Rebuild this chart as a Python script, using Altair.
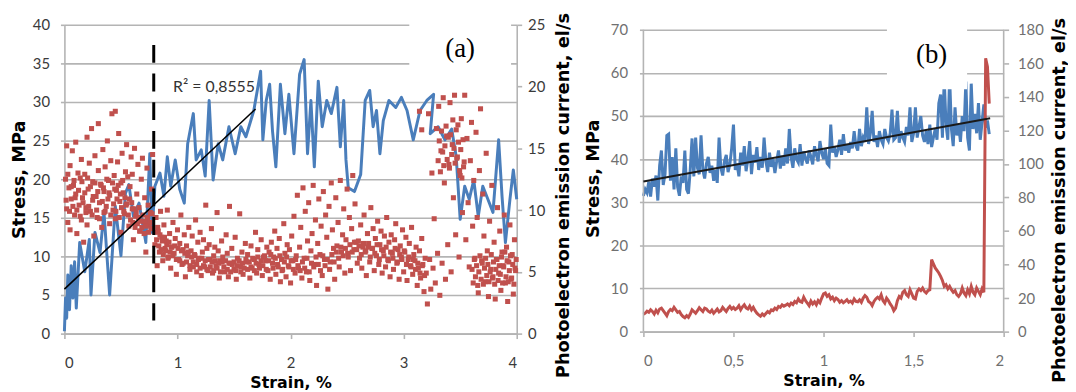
import altair as alt
import pandas as pd

BLUE = "#4a7ebb"
RED = "#c0504d"
GRID = "#b4b4b4"
FONT = "Lato"
TFONT = "DejaVu Sans"

# ---------------- Panel (a) ----------------
a_line_strain = [0.00, 0.01, 0.02, 0.03, 0.045, 0.06, 0.075, 0.09, 0.105, 0.135,
                 0.18, 0.22, 0.235, 0.27, 0.315, 0.35, 0.40, 0.45, 0.50, 0.54,
                 0.57, 0.61, 0.66, 0.72, 0.755, 0.775, 0.80, 0.845, 0.88, 0.91,
                 0.94, 0.98, 1.02, 1.06, 1.09, 1.14, 1.165, 1.21, 1.245, 1.28,
                 1.315, 1.36, 1.40, 1.455, 1.51, 1.56, 1.605, 1.675, 1.735, 1.755,
                 1.785, 1.815, 1.84, 1.87, 1.91, 1.95, 1.985, 2.03, 2.08, 2.12,
                 2.15, 2.18, 2.21, 2.245, 2.28, 2.32, 2.36, 2.41, 2.44, 2.47,
                 2.49, 2.51, 2.565, 2.62, 2.66, 2.70, 2.73, 2.76, 2.79, 2.82,
                 2.87, 2.93, 2.98, 3.03, 3.085, 3.145, 3.205, 3.265, 3.235, 3.305,
                 3.365, 3.425, 3.465, 3.50, 3.54, 3.58, 3.62, 3.66, 3.70, 3.745,
                 3.79, 3.84, 3.87, 3.90, 3.94, 3.97, 4.00]
a_line_stress = [0.3, 4.6, 2.0, 7.6, 3.1, 8.8, 4.6, 9.3, 3.3, 11.8,
                 8.0, 12.2, 5.0, 13.1, 10.5, 15.7, 5.0, 16.5, 10.1, 18.2,
                 19.3, 15.2, 16.9, 11.8, 23.3, 13.1, 19.1, 20.8, 17.8, 22.9,
                 19.1, 22.5, 18.7, 16.9, 24.6, 28.5, 22.5, 23.8, 20.4, 30.2,
                 19.9, 24.6, 22.5, 26.8, 23.3, 26.8, 25.5, 28.9, 34.0, 25.1,
                 30.2, 32.3, 26.3, 21.6, 32.3, 25.9, 31.0, 23.3, 33.6, 35.5,
                 23.3, 30.2, 21.6, 32.7, 26.8, 30.2, 28.5, 31.9, 24.2, 30.2,
                 22.5, 18.9, 18.4, 20.6, 30.2, 31.5, 26.8, 28.9, 23.3, 27.6,
                 30.2, 29.3, 30.6, 28.9, 25.1, 28.9, 30.2, 31.0, 25.9, 26.8,
                 25.1, 26.5, 22.9, 14.8, 19.1, 17.4, 19.9, 15.2, 19.1, 17.4,
                 15.7, 25.1, 17.8, 11.8, 17.4, 21.2, 17.4]

# photoelectron emission current (el/s) points, (strain, current)
a_emission_early = [
    (0.01, 12.5), (0.02, 10.1), (0.02, 15.2), (0.03, 9.0), (0.04, 11.8), (0.05, 13.6), (0.05, 8.4),
    (0.06, 10.9), (0.07, 14.8), (0.08, 12.0), (0.09, 9.6), (0.10, 11.3), (0.10, 15.5), (0.11, 8.1),
    (0.12, 13.0), (0.13, 10.4), (0.14, 12.6), (0.15, 9.2), (0.15, 14.1), (0.16, 11.0), (0.17, 7.4),
    (0.18, 12.9), (0.19, 10.2), (0.20, 15.9), (0.20, 8.8), (0.21, 11.7), (0.22, 13.8), (0.23, 9.9),
    (0.24, 16.6), (0.25, 10.8), (0.25, 12.3), (0.26, 7.9), (0.27, 14.4), (0.28, 11.1), (0.29, 9.4),
    (0.30, 13.2), (0.30, 17.0), (0.31, 10.6), (0.32, 12.1), (0.33, 8.6), (0.34, 14.9), (0.35, 11.5),
    (0.35, 9.8), (0.36, 13.5), (0.37, 10.3), (0.38, 15.6), (0.39, 12.4), (0.40, 8.9), (0.40, 11.2),
    (0.41, 14.0), (0.42, 17.8), (0.43, 10.0), (0.44, 12.8), (0.45, 9.3), (0.45, 18.0), (0.46, 11.6),
    (0.47, 13.9), (0.48, 16.2), (0.49, 10.7), (0.50, 12.2), (0.50, 8.2), (0.51, 14.6), (0.52, 11.4),
    (0.53, 9.7), (0.54, 13.1), (0.55, 15.3), (0.55, 10.5), (0.56, 12.7), (0.57, 8.7), (0.58, 11.9),
    (0.59, 14.3), (0.60, 10.1), (0.60, 12.9), (0.61, 7.6), (0.62, 15.0), (0.63, 9.5), (0.64, 11.3),
    (0.65, 13.7), (0.66, 10.2), (0.67, 8.3), (0.68, 12.5), (0.69, 14.2), (0.70, 9.1), (0.71, 11.0),
    (0.72, 6.6), (0.73, 13.4), (0.74, 10.4), (0.75, 8.8), (0.76, 9.8), (0.77, 11.7), (0.78, 14.5),
]
a_emission_early_core = [
    (0.015, 10.8), (0.03, 12.9), (0.045, 9.9), (0.06, 11.9), (0.075, 10.3), (0.085, 12.4), (0.095, 11.0),
    (0.11, 10.0), (0.125, 11.6), (0.14, 9.5), (0.155, 12.3), (0.165, 10.6), (0.18, 11.4), (0.19, 9.8),
    (0.205, 12.6), (0.215, 10.3), (0.23, 11.9), (0.245, 9.6), (0.255, 11.1), (0.27, 12.2), (0.285, 10.0),
    (0.295, 11.5), (0.31, 9.3), (0.325, 12.0), (0.335, 10.7), (0.345, 11.8), (0.36, 9.9), (0.375, 12.5),
    (0.385, 10.9), (0.395, 11.4), (0.41, 9.6), (0.425, 12.2), (0.435, 10.5), (0.445, 11.7), (0.455, 9.9),
    (0.465, 10.9), (0.475, 12.0), (0.485, 9.4), (0.495, 11.3), (0.505, 10.2), (0.515, 12.4), (0.525, 9.9),
    (0.535, 11.0), (0.545, 10.4), (0.565, 9.6), (0.575, 10.9), (0.585, 9.2), (0.595, 10.6), (0.605, 9.0),
    (0.615, 10.1), (0.625, 8.6), (0.635, 9.8), (0.645, 8.9), (0.655, 9.4), (0.665, 8.3), (0.675, 9.1),
    (0.685, 8.6), (0.695, 9.6), (0.705, 8.1), (0.715, 9.0), (0.725, 8.7), (0.735, 9.4), (0.745, 8.2),
    (0.755, 9.0), (0.765, 8.5), (0.775, 9.7),
]
a_emission_middle = [
    (0.80, 7.2), (0.81, 9.4), (0.82, 5.5), (0.83, 8.3), (0.84, 6.6), (0.85, 9.9), (0.86, 7.8),
    (0.87, 5.9), (0.88, 8.8), (0.89, 6.9), (0.90, 7.5), (0.91, 10.0), (0.92, 6.2), (0.93, 8.1),
    (0.94, 5.3), (0.95, 7.0), (0.96, 9.0), (0.97, 6.5), (0.98, 7.7), (0.99, 4.8), (1.00, 8.4),
    (1.01, 6.0), (1.02, 7.3), (1.03, 9.6), (1.04, 5.6), (1.05, 6.8), (1.06, 8.0), (1.07, 4.6),
    (1.08, 7.1), (1.09, 6.3), (1.10, 8.6), (1.11, 5.2), (1.12, 6.7), (1.13, 7.9), (1.14, 5.8),
    (1.15, 6.4), (1.16, 9.2), (1.17, 5.0), (1.18, 7.4), (1.19, 6.1), (1.20, 8.2), (1.21, 4.7),
    (1.22, 6.6), (1.23, 7.6), (1.24, 5.4), (1.25, 10.4), (1.26, 6.9), (1.27, 5.1), (1.28, 7.2),
    (1.29, 6.0), (1.30, 8.5), (1.31, 4.9), (1.32, 6.3), (1.33, 7.0), (1.34, 5.5), (1.35, 9.8),
    (1.36, 6.7), (1.37, 4.5), (1.38, 5.9), (1.39, 7.5), (1.40, 6.2), (1.42, 5.0), (1.43, 8.0),
    (1.44, 6.5), (1.45, 4.6), (1.46, 10.3), (1.47, 5.7), (1.48, 6.9), (1.50, 5.2), (1.51, 7.8),
    (1.52, 4.4), (1.53, 6.1), (1.55, 9.7), (1.56, 5.4), (1.57, 6.6), (1.58, 4.8), (1.60, 7.3),
    (1.61, 5.8), (1.62, 6.4), (1.64, 4.5), (1.65, 7.1), (1.66, 5.3), (1.68, 6.0), (1.69, 8.2),
    (1.70, 4.9), (1.71, 6.8), (1.72, 5.6), (1.74, 7.6), (1.75, 4.7), (1.76, 6.2), (1.78, 5.9),
    (1.79, 7.0),
]
a_emission_middle_core = [
    (0.805, 8.2), (0.815, 7.6), (0.825, 8.6), (0.835, 7.1), (0.845, 8.0), (0.855, 6.8), (0.865, 7.5),
    (0.875, 6.4), (0.885, 7.8), (0.895, 6.7), (0.905, 7.2), (0.915, 6.1), (0.925, 7.4), (0.935, 6.6),
    (0.945, 7.0), (0.96, 6.3), (0.975, 7.1), (0.99, 6.0), (1.005, 6.9), (1.02, 5.9), (1.035, 6.7),
    (1.05, 5.7), (1.065, 6.5), (1.08, 5.8), (1.095, 6.6), (1.11, 5.5), (1.125, 6.2), (1.14, 5.4),
    (1.155, 6.3), (1.17, 5.6), (1.185, 6.0), (1.20, 5.3), (1.215, 6.1), (1.23, 5.5), (1.245, 5.9),
    (1.26, 5.2), (1.275, 6.0), (1.29, 5.4), (1.305, 5.8), (1.32, 5.1), (1.335, 5.9), (1.35, 5.3),
    (1.365, 5.7), (1.38, 5.0), (1.395, 5.8), (1.41, 5.4), (1.425, 5.9), (1.44, 5.2), (1.455, 5.7),
    (1.47, 5.0), (1.485, 5.6), (1.50, 5.8), (1.515, 5.1), (1.53, 5.5), (1.545, 5.9), (1.56, 5.0),
    (1.575, 5.7), (1.59, 5.3), (1.605, 6.0), (1.62, 5.2), (1.635, 5.8), (1.65, 5.4), (1.665, 6.1),
    (1.68, 5.1), (1.695, 5.7), (1.71, 6.2), (1.725, 5.3), (1.74, 5.9), (1.755, 5.5), (1.77, 6.3),
    (1.785, 5.2),
]
a_emission_hump = [
    (1.80, 5.1), (1.81, 6.6), (1.82, 4.4), (1.83, 7.4), (1.84, 5.7), (1.85, 6.2), (1.86, 8.3),
    (1.87, 4.8), (1.88, 6.9), (1.89, 5.4), (1.90, 7.7), (1.91, 4.2), (1.92, 6.0), (1.93, 5.2),
    (1.94, 8.9), (1.95, 6.5), (1.96, 4.6), (1.97, 7.2), (1.98, 5.5), (1.99, 6.8), (2.00, 4.1),
    (2.01, 7.9), (2.02, 5.9), (2.03, 9.5), (2.04, 4.9), (2.05, 6.3), (2.06, 11.2), (2.07, 5.3),
    (2.08, 7.0), (2.09, 8.6), (2.10, 4.5), (2.11, 11.8), (2.12, 6.1), (2.13, 9.9), (2.14, 5.0),
    (2.15, 7.5), (2.16, 10.6), (2.17, 4.3), (2.18, 6.7), (2.19, 8.1), (2.20, 12.0), (2.21, 5.6),
    (2.22, 9.2), (2.23, 3.9), (2.24, 7.3), (2.25, 10.9), (2.26, 6.4), (2.27, 8.7), (2.28, 4.7),
    (2.29, 11.5), (2.30, 6.0), (2.31, 9.6), (2.32, 7.8), (2.33, 3.6), (2.34, 10.3), (2.35, 5.8),
    (2.36, 12.2), (2.37, 8.4), (2.38, 6.9), (2.39, 4.4), (2.40, 11.0), (2.41, 7.1), (2.42, 9.0),
    (2.43, 5.4), (2.44, 12.4), (2.45, 6.6), (2.46, 8.0), (2.47, 10.1), (2.48, 4.9), (2.49, 7.6),
    (2.50, 11.7), (2.51, 6.2), (2.52, 9.4), (2.53, 5.1), (2.54, 8.5), (2.55, 12.8), (2.56, 6.8),
    (2.57, 10.5), (2.58, 7.4), (2.59, 5.7),
]
a_emission_plateau = [
    (2.60, 7.5), (2.61, 6.1), (2.62, 8.8), (2.63, 5.3), (2.64, 7.0), (2.65, 9.6), (2.66, 6.6),
    (2.67, 4.7), (2.68, 8.1), (2.69, 7.3), (2.70, 5.8), (2.71, 10.2), (2.72, 6.9), (2.73, 8.5),
    (2.74, 5.1), (2.75, 7.7), (2.76, 6.3), (2.77, 9.1), (2.78, 5.6), (2.79, 7.2), (2.80, 8.3),
    (2.81, 4.9), (2.82, 6.7), (2.83, 7.9), (2.84, 5.4), (2.85, 9.4), (2.86, 6.0), (2.87, 7.4),
    (2.88, 4.6), (2.89, 8.0), (2.90, 6.5), (2.91, 5.2), (2.92, 7.6), (2.93, 8.9), (2.94, 5.7),
    (2.95, 6.8), (2.96, 4.4), (2.97, 7.1), (2.98, 6.2), (2.99, 8.4), (3.00, 5.0), (3.01, 6.6),
    (3.02, 7.8), (3.03, 4.3), (3.04, 6.0), (3.05, 7.3), (3.06, 5.5), (3.07, 8.6), (3.08, 4.8),
    (3.09, 6.4), (3.10, 5.9), (3.11, 7.0), (3.12, 3.9), (3.13, 5.3), (3.14, 6.7), (3.15, 4.5),
    (3.16, 7.7), (3.17, 5.6), (3.18, 3.4), (3.19, 6.1), (3.14, 18.0), (3.16, 16.5),
]
a_emission_plateau_core = [
    (1.805, 5.9), (1.825, 6.4), (1.845, 5.3), (1.865, 6.1), (1.885, 5.6), (1.905, 6.3), (1.925, 5.1),
    (1.945, 5.8), (1.965, 6.2), (1.985, 5.4), (2.005, 5.9), (2.025, 5.2), (2.045, 6.0), (2.065, 5.5),
    (2.085, 5.1), (2.105, 5.8), (2.125, 5.3), (2.145, 6.1), (2.165, 5.0), (2.185, 5.7), (2.205, 5.4),
    (2.225, 6.2), (2.245, 5.6), (2.265, 5.1), (2.285, 6.3), (2.305, 5.5), (2.325, 6.0), (2.345, 5.2),
    (2.365, 6.4), (2.385, 5.8), (2.405, 6.6), (2.425, 6.1), (2.445, 7.0), (2.465, 6.3), (2.485, 6.9),
    (2.505, 6.5), (2.525, 7.2), (2.545, 6.6), (2.565, 7.4), (2.585, 6.8), (2.605, 7.1), (2.625, 6.4),
    (2.645, 7.3), (2.665, 6.7), (2.685, 7.0), (2.705, 6.2), (2.725, 6.9), (2.745, 6.5), (2.765, 7.2),
    (2.785, 6.0), (2.805, 6.8), (2.825, 6.3), (2.845, 7.0), (2.865, 5.9), (2.885, 6.6), (2.905, 6.1),
    (2.925, 6.9), (2.945, 5.8), (2.965, 6.4), (2.985, 6.0), (3.005, 6.7), (3.025, 5.6), (3.045, 6.2),
    (3.065, 5.4), (3.085, 6.0), (3.105, 5.2), (3.125, 5.7), (3.145, 4.9), (3.165, 5.5), (3.185, 4.7),
]
a_emission_late = [
    (3.20, 4.9), (3.21, 2.4), (3.22, 17.8), (3.23, 6.0), (3.24, 3.6), (3.25, 13.0), (3.26, 5.3),
    (3.27, 9.3), (3.28, 4.1), (3.29, 16.6), (3.30, 6.5), (3.31, 18.4), (3.32, 3.1), (3.33, 14.8),
    (3.34, 5.7), (3.35, 19.1), (3.36, 12.2), (3.37, 4.4), (3.38, 16.0), (3.39, 7.2), (3.40, 13.7),
    (3.41, 18.7), (3.42, 5.0), (3.43, 15.3), (3.44, 11.0), (3.45, 19.3), (3.46, 8.0), (3.47, 14.2),
    (3.48, 16.9), (3.49, 6.2), (3.50, 12.8), (3.51, 17.4), (3.52, 9.8), (3.53, 13.5), (3.54, 19.3),
    (3.55, 7.6), (3.56, 15.8), (3.57, 10.6), (3.58, 5.4), (3.59, 14.0), (3.60, 17.1), (3.61, 8.7),
    (3.62, 12.4), (3.63, 6.1), (3.64, 16.3), (3.65, 9.4), (3.66, 3.3), (3.67, 13.2), (3.68, 18.2),
    (3.69, 5.9), (3.70, 11.3), (3.71, 7.9), (3.72, 4.2), (3.73, 14.6), (3.74, 6.7), (3.75, 3.0),
    (3.76, 9.1), (3.77, 5.2), (3.78, 12.0), (3.79, 4.6), (3.80, 7.4), (3.81, 2.8), (3.82, 6.0),
    (3.83, 10.2), (3.84, 4.9), (3.85, 8.3), (3.86, 3.5), (3.87, 6.6), (3.88, 5.5), (3.89, 9.6),
    (3.90, 4.1), (3.91, 7.0), (3.92, 2.6), (3.93, 5.8), (3.94, 8.8), (3.95, 4.4), (3.96, 6.4),
    (3.97, 3.2), (3.98, 7.6), (3.99, 5.1),
]
a_emission_late_high = [
    (3.305, 14.0), (3.315, 15.6), (3.325, 13.1), (3.335, 16.4), (3.345, 14.7), (3.355, 13.6),
    (3.365, 15.2), (3.375, 16.8), (3.385, 14.1), (3.395, 15.9), (3.405, 13.4), (3.415, 16.1),
    (3.425, 14.5), (3.435, 17.3), (3.445, 15.0), (3.455, 13.8), (3.465, 16.5), (3.475, 14.3),
    (3.485, 15.5), (3.495, 13.2), (3.505, 14.9), (3.515, 12.6), (3.525, 15.7), (3.535, 13.9),
]
a_emission_late_core = [
    (3.605, 5.2), (3.615, 4.1), (3.625, 6.0), (3.635, 4.6), (3.645, 5.5), (3.655, 3.9), (3.665, 5.0),
    (3.675, 6.3), (3.685, 4.4), (3.695, 5.7), (3.705, 4.0), (3.715, 5.3), (3.725, 6.1), (3.735, 4.7),
    (3.745, 5.6), (3.755, 4.2), (3.765, 5.0), (3.775, 6.4), (3.785, 4.5), (3.795, 5.8), (3.805, 4.0),
    (3.815, 5.2), (3.825, 6.0), (3.835, 4.3), (3.845, 5.5), (3.855, 4.8), (3.865, 6.2), (3.875, 4.1),
    (3.885, 5.4), (3.895, 6.6), (3.905, 4.6), (3.915, 5.9), (3.925, 4.2), (3.935, 5.1), (3.945, 6.3),
    (3.955, 4.5), (3.965, 5.6), (3.975, 4.0), (3.985, 5.3), (3.995, 6.0),
]
a_trend_strain = [0.0, 1.69]
a_trend_stress = [5.76, 29.1]
a_marker_strain = [0.79]
a_marker_from = [37.4]
a_marker_to = [1.7]
a_r2_label = ["R\u00b2 = 0,8555"]

# ---------------- Panel (b) ----------------
b_strain = [
    0.00, 0.01, 0.02, 0.03, 0.04, 0.05, 0.06, 0.07, 0.08, 0.09,
    0.10, 0.11, 0.12, 0.13, 0.14, 0.15, 0.16, 0.17, 0.18, 0.19,
    0.20, 0.21, 0.22, 0.23, 0.24, 0.25, 0.26, 0.27, 0.28, 0.29,
    0.30, 0.31, 0.32, 0.33, 0.34, 0.35, 0.36, 0.37, 0.38, 0.39,
    0.40, 0.41, 0.42, 0.43, 0.44, 0.45, 0.46, 0.47, 0.48, 0.49,
    0.50, 0.51, 0.52, 0.53, 0.54, 0.55, 0.56, 0.57, 0.58, 0.59,
    0.60, 0.61, 0.62, 0.63, 0.64, 0.65, 0.66, 0.67, 0.68, 0.69,
    0.70, 0.71, 0.72, 0.73, 0.74, 0.75, 0.76, 0.77, 0.78, 0.79,
    0.80, 0.81, 0.82, 0.83, 0.84, 0.85, 0.86, 0.87, 0.88, 0.89,
    0.90, 0.91, 0.92, 0.93, 0.94, 0.95, 0.96, 0.97, 0.98, 0.99,
    1.00, 1.01, 1.02, 1.03, 1.04, 1.05, 1.06, 1.07, 1.08, 1.09,
    1.10, 1.11, 1.12, 1.13, 1.14, 1.15, 1.16, 1.17, 1.18, 1.19,
    1.20, 1.21, 1.22, 1.23, 1.24, 1.25, 1.26, 1.27, 1.28, 1.29,
    1.30, 1.31, 1.32, 1.33, 1.34, 1.35, 1.36, 1.37, 1.38, 1.39,
    1.40, 1.41, 1.42, 1.43, 1.44, 1.45, 1.46, 1.47, 1.48, 1.49,
    1.50, 1.51, 1.52, 1.53, 1.54, 1.55, 1.56, 1.57, 1.58, 1.59,
    1.60, 1.61, 1.62, 1.63, 1.64, 1.65, 1.66, 1.67, 1.68, 1.69,
    1.70, 1.71, 1.72, 1.73, 1.74, 1.75, 1.76, 1.77, 1.78, 1.79,
    1.80, 1.81, 1.82, 1.83, 1.84, 1.85, 1.86, 1.87, 1.88, 1.89,
    1.90, 1.91, 1.92,
]
b_stress = [
    31.5, 33.0, 32.2, 34.8, 31.3, 35.5, 33.6, 36.2, 30.4, 38.5,
    42.0, 34.0, 36.5, 45.5, 45.8, 35.0, 40.5, 33.0, 42.5, 33.5,
    31.5, 36.0, 34.5, 42.0, 33.0, 32.0, 37.5, 44.8, 36.0, 45.0,
    38.0, 36.5, 45.5, 37.5, 35.5, 39.0, 40.5, 36.8, 38.5, 35.0,
    37.5, 34.5, 45.0, 38.0, 36.2, 39.5, 41.0, 37.0, 38.8, 42.5,
    48.0, 37.5, 39.0, 36.0, 41.5, 38.5, 43.0, 37.2, 40.0, 44.2,
    36.5, 41.0, 39.2, 42.8, 37.5, 40.5, 38.0, 45.0, 39.5, 37.0,
    41.5, 38.2, 40.0, 36.8, 39.5, 42.0, 37.8, 40.8, 38.5, 42.5,
    39.0, 47.0, 40.5, 38.0, 42.5, 40.0, 39.2, 43.5, 38.5, 41.8,
    40.2, 39.0, 42.0, 40.5, 38.8, 43.0, 41.0, 39.5, 44.2, 41.5,
    40.0, 42.5, 39.0, 38.5, 48.0, 41.5, 43.0, 40.5, 42.2, 44.5,
    41.0, 45.8, 42.0, 43.5, 41.5, 44.0, 42.5, 46.5, 43.0, 42.0,
    47.0, 43.0, 45.0, 44.0, 52.0, 43.5, 46.0, 51.2, 44.0, 45.5,
    42.8, 46.5, 44.5, 43.5, 47.0, 45.0, 44.2, 46.0, 51.5, 44.5,
    45.0, 51.2, 43.8, 46.5, 45.0, 44.0, 47.5, 45.5, 52.0, 44.0,
    46.0, 52.0, 45.0, 47.5, 50.0, 45.5, 44.0, 46.5, 43.5, 48.0,
    42.8, 45.0, 47.0, 44.5, 53.0, 55.0, 45.0, 58.5, 48.0, 44.5,
    59.0, 47.0, 43.0, 52.0, 45.5, 48.0, 44.0, 50.0, 46.5, 58.0,
    45.0, 42.0, 57.5, 47.0, 50.5, 46.0, 53.0, 44.5, 48.5, 52.7,
    47.3, 49.0, 45.8,
]
b_current = [
    10.3, 11.0, 12.2, 11.5, 13.0, 12.0, 10.5, 12.8, 11.2, 13.5,
    14.0, 12.5, 11.0, 9.5, 12.0, 13.2, 12.5, 14.5, 13.0, 11.5,
    12.0, 10.2, 9.0, 8.3, 9.5, 8.5, 10.5, 13.0, 12.0, 11.0,
    12.5, 14.2, 13.0, 12.0, 14.0, 13.5, 12.2, 11.5, 12.8, 11.0,
    12.2, 13.5, 11.8, 12.5, 14.5, 13.2, 12.0, 13.8, 15.0, 13.5,
    14.5, 13.2, 14.0, 15.5, 13.0, 14.8, 16.0, 14.2, 13.5, 15.2,
    13.0, 14.5, 12.5, 11.0, 10.0, 9.2, 10.5, 9.5, 10.8, 12.0,
    11.2, 13.0, 12.5, 14.0, 13.2, 15.0, 14.5, 16.0, 15.2, 15.8,
    16.5, 15.5, 17.0, 16.2, 18.0, 17.2, 19.5, 18.0, 17.5, 20.5,
    18.5, 17.0, 15.5, 18.2, 16.5, 17.8, 16.0, 18.5, 17.2, 20.0,
    22.5, 23.0, 21.0, 22.0, 19.5, 20.5, 18.5, 20.0, 19.2, 17.5,
    18.5, 17.2, 18.0, 19.0, 17.5, 18.2, 17.0, 19.5, 18.0, 17.8,
    19.0, 17.5, 20.0, 21.5, 20.5, 18.0, 17.2, 15.5, 18.0, 19.5,
    20.5, 19.5, 22.0, 18.5, 17.0, 20.0, 18.5, 16.5, 15.0, 12.5,
    14.0, 18.5, 21.0, 20.0, 23.5, 24.5, 22.0, 21.0, 25.0, 22.5,
    20.0, 19.5, 24.0, 25.5, 24.5, 26.0, 24.0, 23.0, 24.5, 25.0,
    43.0, 40.5, 38.0, 36.5, 35.0, 33.0, 30.5, 27.0, 28.0, 25.5,
    27.0, 25.0, 23.5, 24.5, 22.0, 21.0, 22.5, 26.0, 23.0, 21.5,
    25.0, 22.5, 27.0, 23.5, 22.0, 26.0, 24.0, 22.0, 25.5, 23.5,
    163.0, 158.0, 136.0,
]
b_trend_strain = [0.0, 1.925]
b_trend_stress = [34.8, 49.5]
b_frame_strain = [0.0, 2.0]

# ---------------- tables ----------------
a_points = (a_emission_early + a_emission_early_core + a_emission_middle + a_emission_middle_core
            + a_emission_hump + a_emission_plateau + a_emission_plateau_core + a_emission_late
            + a_emission_late_high + a_emission_late_core)
df_a_line = pd.DataFrame({"strain": a_line_strain, "stress": a_line_stress,
                          "seq": list(range(len(a_line_strain)))})
df_a_pts = pd.DataFrame({"strain": [p[0] for p in a_points], "current": [p[1] for p in a_points]})
df_a_trend = pd.DataFrame({"strain": a_trend_strain, "stress": a_trend_stress})
df_a_marker = pd.DataFrame({"strain": a_marker_strain, "stress": a_marker_from, "stress2": a_marker_to})
df_a_box = pd.DataFrame({"strain": [3.05], "strain2": [3.95], "stress": [32.5], "stress2": [41.9]})
df_a_tag = pd.DataFrame({"strain": [3.5], "stress": [36.9], "label": ["(a)"]})
df_a_r2 = pd.DataFrame({"strain": [0.96], "stress": [32.0], "label": a_r2_label})

df_b_line = pd.DataFrame({"strain": b_strain, "stress": b_stress})
df_b_cur = pd.DataFrame({"strain": b_strain, "current": b_current})
df_b_trend = pd.DataFrame({"strain": b_trend_strain, "stress": b_trend_stress})
df_b_frame = pd.DataFrame({"strain": b_frame_strain, "stress": [0, 0], "stress2": [70, 70]})
df_b_box = pd.DataFrame({"strain": [1.352], "strain2": [1.797], "stress": [56.2], "stress2": [74.0]})
df_b_tag = pd.DataFrame({"strain": [1.6], "stress": [64.2], "label": ["(b)"]})


def y_axis(orient, values, label_color, title, tick, lpad, extent, tpad, grid,
           title_y=None, domain=True):
    kw = dict(orient=orient, values=values, grid=grid, gridColor=GRID, gridWidth=1.6,
              domain=domain, domainColor=GRID, domainWidth=1.6, tickColor=GRID, tickWidth=1.6,
              tickSize=tick, labelPadding=lpad, labelFont=FONT, labelFontSize=15,
              labelColor=label_color, title=title, titleFont=TFONT, titleFontSize=18,
              titleFontWeight="bold", titleColor="black", titlePadding=tpad,
              minExtent=extent, maxExtent=extent, titleAngle=270)
    if orient == "right":
        kw["titleBaseline"] = "top"
    else:
        kw["titleBaseline"] = "bottom"
    if title_y is not None:
        kw["titleY"] = title_y
    return alt.Axis(**kw)


def x_axis(values, label_color, expr=None):
    kw = dict(values=values, grid=False, domainColor=GRID, domainWidth=1.6, tickColor=GRID,
              tickWidth=1.6, tickSize=5, labelPadding=17, labelFont=FONT, labelFontSize=15,
              labelColor=label_color, format="~g", title="Strain, %", titleFont=TFONT,
              titleFontSize=16, titleFontWeight="bold", titleColor="black", titlePadding=4,
              minExtent=37, maxExtent=37)
    if expr:
        kw["labelExpr"] = expr
    return alt.Axis(**kw)


# ---------- panel (a) chart ----------
xa = alt.X("strain:Q", scale=alt.Scale(domain=[0, 4], nice=False, zero=False),
           axis=x_axis([0, 1, 2, 3, 4], "#3a3a3a"))
ya_scale = alt.Scale(domain=[0, 40], nice=False)
ya_none = alt.Y("stress:Q", scale=ya_scale, axis=None)

a_blue = alt.Chart(df_a_line).mark_line(color=BLUE, strokeWidth=3, strokeJoin="round").encode(
    x=xa,
    y=alt.Y("stress:Q", scale=ya_scale,
            axis=y_axis("left", [0, 5, 10, 15, 20, 25, 30, 35, 40], "#3a3a3a", "Stress, MPa",
                        4, 11, 32, 4, True)),
    order="seq:Q",
)
a_red = alt.Chart(df_a_pts).mark_square(color=RED, size=26, opacity=1).encode(
    x=xa,
    y=alt.Y("current:Q", scale=alt.Scale(domain=[0, 25], nice=False),
            axis=y_axis("right", [0, 5, 10, 15, 20, 25], "#3a3a3a",
                        "Photoelectron emission current, el/s", 5, 6, 27, 11, False, 172)),
)
a_trend = alt.Chart(df_a_trend).mark_line(color="black", strokeWidth=1.6).encode(x=xa, y=ya_none)
a_marker = alt.Chart(df_a_marker).mark_rule(color="black", strokeWidth=3, strokeDash=[18, 11]).encode(
    x=xa, y=ya_none, y2="stress2:Q")
a_box = alt.Chart(df_a_box).mark_rect(color="white").encode(x=xa, x2="strain2:Q", y=ya_none, y2="stress2:Q")
a_tag = alt.Chart(df_a_tag).mark_text(font="Liberation Serif", fontSize=27, color="black",
                                      align="center", baseline="middle").encode(x=xa, y=ya_none, text="label:N")
a_r2 = alt.Chart(df_a_r2).mark_text(font=FONT, fontSize=16, color="#333333",
                                    align="left", baseline="middle").encode(x=xa, y=ya_none, text="label:N")
a_over = alt.layer(a_trend, a_marker, a_box, a_tag, a_r2)

panel_a = alt.layer(a_blue, a_red, a_over).resolve_scale(y="independent").properties(width=457, height=312)

# ---------- panel (b) chart ----------
# the plot area of (b) starts 5 px below that of (a): its value range is drawn 305 px tall
comma = "replace(datum.label, '.', ',')"
xb = alt.X("strain:Q", scale=alt.Scale(domain=[0, 2], nice=False, zero=False),
           axis=x_axis([0, 0.5, 1, 1.5, 2], "#707070", comma))
yb_scale = alt.Scale(domain=[0, 71.15], nice=False)
yb_none = alt.Y("stress:Q", scale=yb_scale, axis=None)

b_blue = alt.Chart(df_b_line).mark_line(color=BLUE, strokeWidth=3).encode(
    x=xb,
    y=alt.Y("stress:Q", scale=yb_scale,
            axis=y_axis("left", [0, 10, 20, 30, 40, 50, 60, 70], "#707070", "Stress, MPa",
                        4, 12, 33, 8, True, domain=False)),
)
b_red = alt.Chart(df_b_cur).mark_line(color=RED, strokeWidth=3).encode(
    x=xb,
    y=alt.Y("current:Q", scale=alt.Scale(domain=[0, 182.95], nice=False),
            axis=y_axis("right", [0, 20, 40, 60, 80, 100, 120, 140, 160, 180], "#707070",
                        "Photoelectron emission current, el/s", 5, 9, 41, 6, False, 177, domain=False)),
)
b_frame = alt.Chart(df_b_frame).mark_rule(color=GRID, strokeWidth=1.6).encode(
    x=xb, y=yb_none, y2="stress2:Q")
b_trend = alt.Chart(df_b_trend).mark_line(color="#1a1a1a", strokeWidth=2).encode(x=xb, y=yb_none)
b_box = alt.Chart(df_b_box).mark_rect(color="white").encode(x=xb, x2="strain2:Q", y=yb_none, y2="stress2:Q")
b_tag = alt.Chart(df_b_tag).mark_text(font="Liberation Serif", fontSize=27, color="black",
                                      align="center", baseline="middle").encode(x=xb, y=yb_none, text="label:N")
b_over = alt.layer(b_frame, b_trend, b_box, b_tag)

panel_b = alt.layer(b_blue, b_red, b_over).resolve_scale(y="independent").properties(width=364, height=310)

chart = alt.hconcat(panel_a, panel_b, spacing=13).properties(
    padding={"left": 3, "top": 0, "right": 0, "bottom": 0}
).configure_view(stroke=None)

chart.save("out.html", embed_options={"renderer": "svg", "actions": False})
